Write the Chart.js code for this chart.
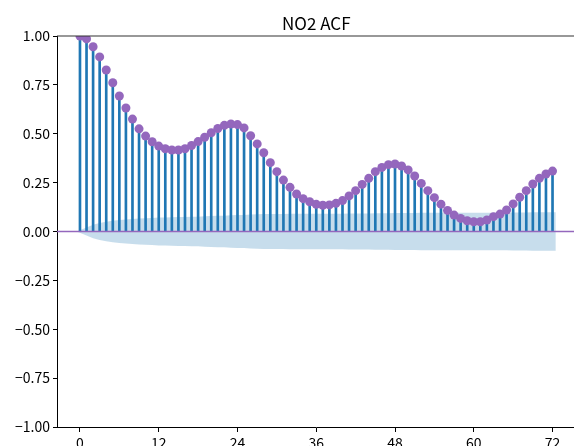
<!DOCTYPE html>
<html>
<head>
<meta charset="utf-8">
<script src="https://cdn.jsdelivr.net/npm/chart.js@4"></script>
<style>
  html, body { margin: 0; padding: 0; background: #fff; overflow: hidden; }
  #wrap { width: 580px; height: 446px; }
</style>
</head>
<body>
<div id="wrap"><canvas id="acfChart"></canvas></div>
<script>
const lags = [
    0, 1, 2, 3, 4, 5, 6, 7, 8, 9, 10, 11, 12, 13, 14, 15, 16, 17, 18, 19,
    20, 21, 22, 23, 24, 25, 26, 27, 28, 29, 30, 31, 32, 33, 34, 35, 36, 37, 38, 39,
    40, 41, 42, 43, 44, 45, 46, 47, 48, 49, 50, 51, 52, 53, 54, 55, 56, 57, 58, 59,
    60, 61, 62, 63, 64, 65, 66, 67, 68, 69, 70, 71, 72,
];
const acfValues = [
    1.000, 0.985, 0.945, 0.893, 0.826, 0.761, 0.693, 0.632, 0.575, 0.525,
    0.488, 0.459, 0.437, 0.423, 0.417, 0.417, 0.423, 0.440, 0.460, 0.482,
    0.505, 0.527, 0.543, 0.550, 0.547, 0.530, 0.490, 0.448, 0.403, 0.352,
    0.306, 0.263, 0.226, 0.192, 0.168, 0.152, 0.139, 0.134, 0.136, 0.144,
    0.158, 0.182, 0.209, 0.241, 0.272, 0.306, 0.328, 0.342, 0.345, 0.335,
    0.315, 0.284, 0.246, 0.209, 0.173, 0.140, 0.108, 0.084, 0.067, 0.055,
    0.050, 0.050, 0.059, 0.076, 0.089, 0.110, 0.141, 0.175, 0.209, 0.243,
    0.272, 0.294, 0.309,
];
// half width of the confidence band around zero, per lag
const bandValues = [
    0.000, 0.020, 0.034, 0.043, 0.050, 0.055, 0.059, 0.062, 0.064, 0.067,
    0.068, 0.069, 0.071, 0.072, 0.073, 0.074, 0.074, 0.075, 0.076, 0.078,
    0.079, 0.080, 0.081, 0.083, 0.084, 0.085, 0.087, 0.088, 0.089, 0.089,
    0.090, 0.090, 0.091, 0.091, 0.091, 0.091, 0.091, 0.091, 0.091, 0.091,
    0.091, 0.092, 0.092, 0.092, 0.092, 0.093, 0.093, 0.093, 0.094, 0.094,
    0.095, 0.095, 0.096, 0.096, 0.096, 0.096, 0.096, 0.096, 0.096, 0.096,
    0.096, 0.096, 0.096, 0.096, 0.096, 0.096, 0.097, 0.097, 0.097, 0.098,
    0.098, 0.098, 0.099,
];
const xTickLabels = [0, 12, 24, 36, 48, 60, 72];
const yTickLabels = [-1, -0.75, -0.5, -0.25, 0, 0.25, 0.5, 0.75, 1];
const titleText = "NO2 ACF";

const xMin = -3.5;
const xMax = 75.5;
const font = "'Noto Sans CJK SC', 'DejaVu Sans', sans-serif";

// band is stretched half a lag past both ends, like statsmodels does
const bandX = lags.map((l, i) => (i === 0 ? l - 0.5 : i === lags.length - 1 ? l + 0.5 : l));

// top spine + title centred over the axes (matplotlib style)
const frame = {
    id: "frame",
    afterDraw(chart) {
        const { ctx, chartArea } = chart;
        ctx.save();
        ctx.strokeStyle = "#333";
        ctx.lineWidth = 1.2;
        ctx.beginPath();
        ctx.moveTo(chartArea.left, chartArea.top);
        ctx.lineTo(chartArea.right, chartArea.top);
        ctx.stroke();
        ctx.fillStyle = "#000";
        ctx.font = "17px " + font;
        ctx.textAlign = "center";
        ctx.textBaseline = "middle";
        ctx.fillText(titleText, (chartArea.left + chartArea.right) / 2, chartArea.top - 12);
        ctx.restore();
    },
};

const data = {
    datasets: [
        {
            type: "line",
            data: bandX.map((x, i) => ({ x: x, y: bandValues[i] })),
            borderWidth: 0,
            pointRadius: 0,
            backgroundColor: "rgba(31, 119, 180, 0.25)",
            fill: "+1",
            tension: 0,
            order: 4,
        },
        {
            type: "line",
            data: bandX.map((x, i) => ({ x: x, y: -bandValues[i] })),
            borderWidth: 0,
            pointRadius: 0,
            fill: false,
            tension: 0,
            order: 4,
        },
        {
            type: "bar",
            data: lags.map((l, i) => ({ x: l, y: acfValues[i] })),
            backgroundColor: "#1f77b4",
            barThickness: 2,
            order: 3,
        },
        {
            type: "line",
            data: [{ x: xMin, y: 0 }, { x: xMax, y: 0 }],
            borderColor: "#9467bd",
            borderWidth: 1.5,
            pointRadius: 0,
            fill: false,
            order: 2,
        },
        {
            type: "line",
            data: lags.map((l, i) => ({ x: l, y: acfValues[i] })),
            showLine: false,
            pointRadius: 4.5,
            pointBackgroundColor: "#9467bd",
            pointBorderWidth: 0,
            order: 1,
        },
    ],
};

const config = {
    type: "bar",
    data: data,
    plugins: [frame],
    options: {
        responsive: true,
        maintainAspectRatio: false,
        animation: false,
        layout: { padding: { left: 0, right: 1, top: 36, bottom: 0 } },
        plugins: {
            legend: { display: false },
            tooltip: { enabled: false },
            title: { display: false },
        },
        scales: {
            x: {
                type: "linear",
                min: xMin,
                max: xMax,
                offset: false,
                afterBuildTicks: (scale) => {
                    scale.ticks = xTickLabels.map((v) => ({ value: v }));
                },
                afterFit: (scale) => {
                    scale.height = 19;
                },
                ticks: {
                    color: "#000",
                    font: { family: font, size: 14 },
                    padding: 2,
                    maxRotation: 0,
                    autoSkip: false,
                },
                grid: { offset: false, drawOnChartArea: false, tickLength: 5, tickColor: "#000" },
                border: { color: "#000", width: 1 },
            },
            y: {
                min: -1,
                max: 1,
                afterBuildTicks: (scale) => {
                    scale.ticks = yTickLabels.map((v) => ({ value: v }));
                },
                afterFit: (scale) => {
                    scale.width = 57;
                },
                ticks: {
                    color: "#000",
                    font: { family: font, size: 14 },
                    padding: 3,
                    callback: (v) => v.toFixed(2).replace("-", "\u2212"),
                },
                grid: { drawOnChartArea: false, tickLength: 4, tickColor: "#000" },
                border: { color: "#000", width: 1 },
            },
        },
    },
};

new Chart(document.getElementById("acfChart"), config);
</script>
</body>
</html>
